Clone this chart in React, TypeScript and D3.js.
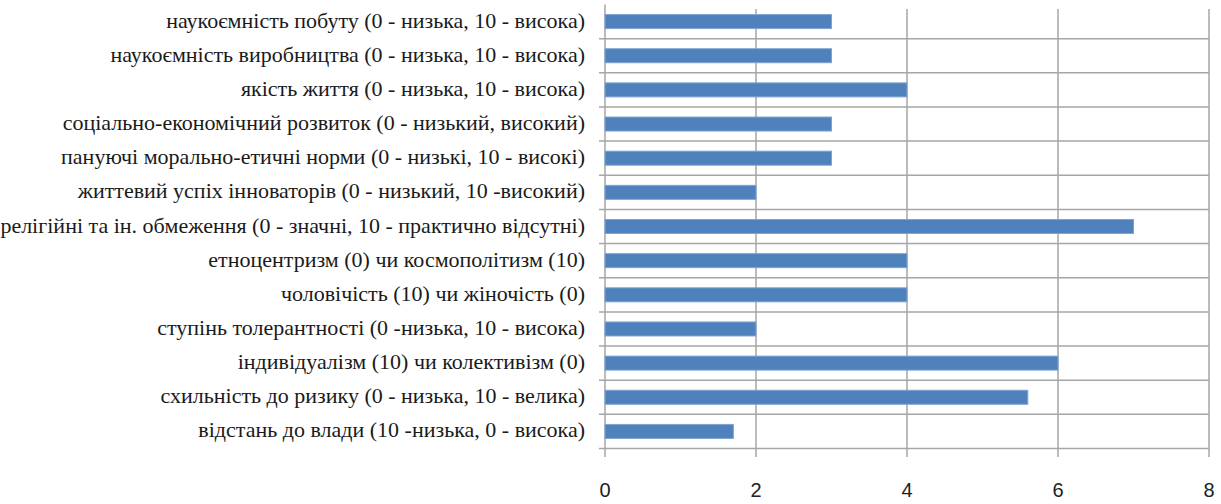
import React, { useEffect, useState } from "react";
import * as d3 from "d3";

const categories: string[] = [
  "наукоємність побуту (0 - низька, 10 - висока)",
  "наукоємність виробництва (0 - низька, 10 - висока)",
  "якість життя (0 - низька, 10 - висока)",
  "соціально-економічний розвиток (0 - низький, високий)",
  "пануючі морально-етичні норми (0 - низькі, 10 - високі)",
  "життевий успіх інноваторів (0 - низький, 10 -високий)",
  "релігійні та ін. обмеження (0 - значні, 10 - практично відсутні)",
  "етноцентризм (0) чи космополітизм (10)",
  "чоловічість (10) чи жіночість (0)",
  "ступінь толерантності (0 -низька, 10 - висока)",
  "індивідуалізм (10) чи колективізм (0)",
  "схильність до ризику (0 - низька, 10 - велика)",
  "відстань до влади (10 -низька, 0 - висока)",
];
const values: number[] = [3, 3, 4, 3, 3, 2, 7, 4, 4, 2, 6, 5.6, 1.7];
const xTicks: number[] = [0, 2, 4, 6, 8];

const W = 1221;
const H = 504;
const left = 605;
const right = 1209;
const top = 4.5;
const bottom = 448.5;

export default function App() {
  const [ready, setReady] = useState(0);
  useEffect(() => {
    const fs: any = (document as any).fonts;
    if (fs && fs.load) {
      fs.load('22px "Liberation Serif"', "релігійні (0) 10")
        .then(() => setReady((r) => r + 1))
        .catch(() => {});
    }
  }, []);
  const x = d3.scaleLinear().domain([0, 8]).range([left, right]);
  const y = d3.scaleBand<string>().domain(categories).range([top, bottom]).paddingInner(0.59).paddingOuter(0.295);
  const band = (bottom - top) / categories.length;
  const grid = "#a6a6a6";
  return (
    <svg width={W} height={H} style={{ position: "absolute", left: 0, top: 0 }}>
      <rect width={W} height={H} fill="#fff" />
      {d3.range(1, categories.length + 1).map((i) => (
        <line key={"h" + i} x1={599} x2={right} y1={top + i * band} y2={top + i * band} stroke={grid} strokeWidth={1.5} />
      ))}
      {xTicks.map((t) => (
        <line key={"v" + t} x1={x(t)} x2={x(t)} y1={t === 0 ? top : 9} y2={457} stroke={grid} strokeWidth={1.5} />
      ))}
      {categories.map((c, i) => (
        <rect
          key={c}
          x={x(0)}
          y={y(c)!}
          width={x(values[i]) - x(0)}
          height={y.bandwidth()}
          fill="#4f81bd"
          stroke="#7fa3d3"
          strokeWidth={1}
        />
      ))}
      <g key={"labels" + ready} fontFamily="Liberation Serif, Tinos, Times New Roman, serif" fontSize={22}>
        {categories.map((c) => (
          <text key={"l" + c} x={585} y={y(c)! + y.bandwidth() / 2 + 6} textAnchor="end" fill="#1a1a1a">
            {c}
          </text>
        ))}
      </g>
      <g fontFamily="Liberation Sans" fontSize={20}>
        {xTicks.map((t) => (
          <text key={"t" + t} x={x(t)} y={497} textAnchor="middle" fill="#222">
            {t}
          </text>
        ))}
      </g>
    </svg>
  );
}
